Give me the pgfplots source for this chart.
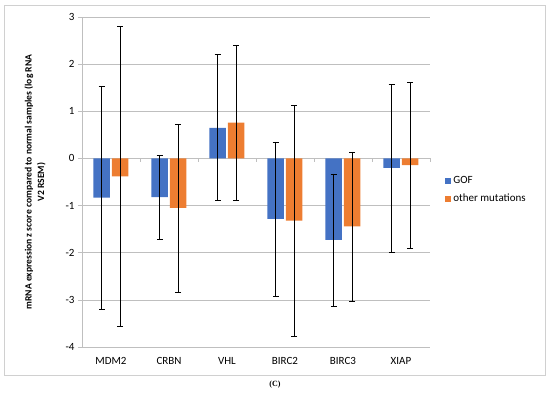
\documentclass[border=0pt]{standalone}
\usepackage{pgfplots}
\pgfplotsset{compat=1.18}
\usepackage{pgfplotstable}
\usepackage{fontspec}
\setmainfont{Carlito}
\newfontfamily\capfont{Liberation Serif}
\definecolor{gofblue}{HTML}{4472C4}
\definecolor{othorange}{HTML}{ED7D31}
\definecolor{gridgray}{HTML}{BFBFBF}
\definecolor{framegray}{HTML}{D0D0D0}
\pgfplotstableread{
x y yp ym
0 -0.83 2.35 2.37
1 -0.82 0.89 0.90
2 0.65 1.55 1.53
3 -1.28 1.63 1.64
4 -1.73 1.40 1.40
5 -0.20 1.77 1.80
}\gof
\pgfplotstableread{
x y yp ym
0 -0.38 3.18 3.19
1 -1.05 1.78 1.78
2 0.76 1.64 1.64
3 -1.32 2.44 2.45
4 -1.44 1.58 1.59
5 -0.14 1.76 1.76
}\oth
\begin{document}
\begin{tikzpicture}
\useasboundingbox (-82pt,-47pt) rectangle (468pt,347pt);
\draw[framegray, line width=0.8pt] (-78pt,-28pt) rectangle (463pt,342pt);
\node[font=\capfont\bfseries\fontsize{8}{9}\selectfont] at (193pt,-38pt) {(C)};
\begin{axis}[at={(0pt,0pt)}, anchor=south west, scale only axis,
  width=348pt, height=330pt,
  xmin=-0.5, xmax=5.5, ymin=-4, ymax=3,
  ybar, bar width=16.5pt,
  axis line style={draw=none},
  xtick={0,...,5}, xticklabels={MDM2,CRBN,VHL,BIRC2,BIRC3,XIAP},
  major x tick style={draw=none},
  ytick={-4,...,3}, yticklabels={-4,-3,-2,-1,0,1,2,3},
  ymajorgrids, grid style={gridgray, line width=0.7pt},
  ytick pos=left, tick align=outside, major tick length=4pt,
  y tick style={gridgray, line width=0.7pt},
  tick label style={font=\fontsize{11}{13}\selectfont},
  xticklabel style={yshift=-3pt},
  ylabel={mRNA expression z score compared to normal samples (log RNA\\V2 RSEM)},
  ylabel style={font=\bfseries\fontsize{9.6}{12.5}\selectfont, align=center,
    at={(rel axis cs:-0.135,0.5)}, anchor=center},
  legend style={at={(rel axis cs:1.035,0.53)}, anchor=north west, draw=none, fill=none,
    font=\fontsize{11}{13}\selectfont, row sep=5pt},
  legend cell align=left,
  legend image code/.code={\fill[#1] (0pt,-3pt) rectangle (6pt,3pt);},
  error bars/y dir=both, error bars/y explicit,
  error bars/error bar style={black, line width=0.6pt},
  error bars/error mark options={rotate=90, mark size=3pt, black, line width=0.6pt},
  clip=false,
]
\draw[gridgray, line width=0.7pt] (rel axis cs:0,0) -- (rel axis cs:0,1);
\draw[gridgray, line width=0.7pt] (axis cs:-0.5,0) -- (axis cs:5.5,0);
\pgfplotsinvokeforeach{-0.5,0.5,1.5,2.5,3.5,4.5,5.5}{\draw[gridgray, line width=0.7pt] (axis cs:#1,0) -- ++(0pt,-4pt);}
\addplot[fill=gofblue, draw=none] table[x=x, y=y, y error plus=yp, y error minus=ym] {\gof};
\addplot[fill=othorange, draw=none] table[x=x, y=y, y error plus=yp, y error minus=ym] {\oth};
\legend{GOF, other mutations}
\end{axis}
\end{tikzpicture}
\end{document}
